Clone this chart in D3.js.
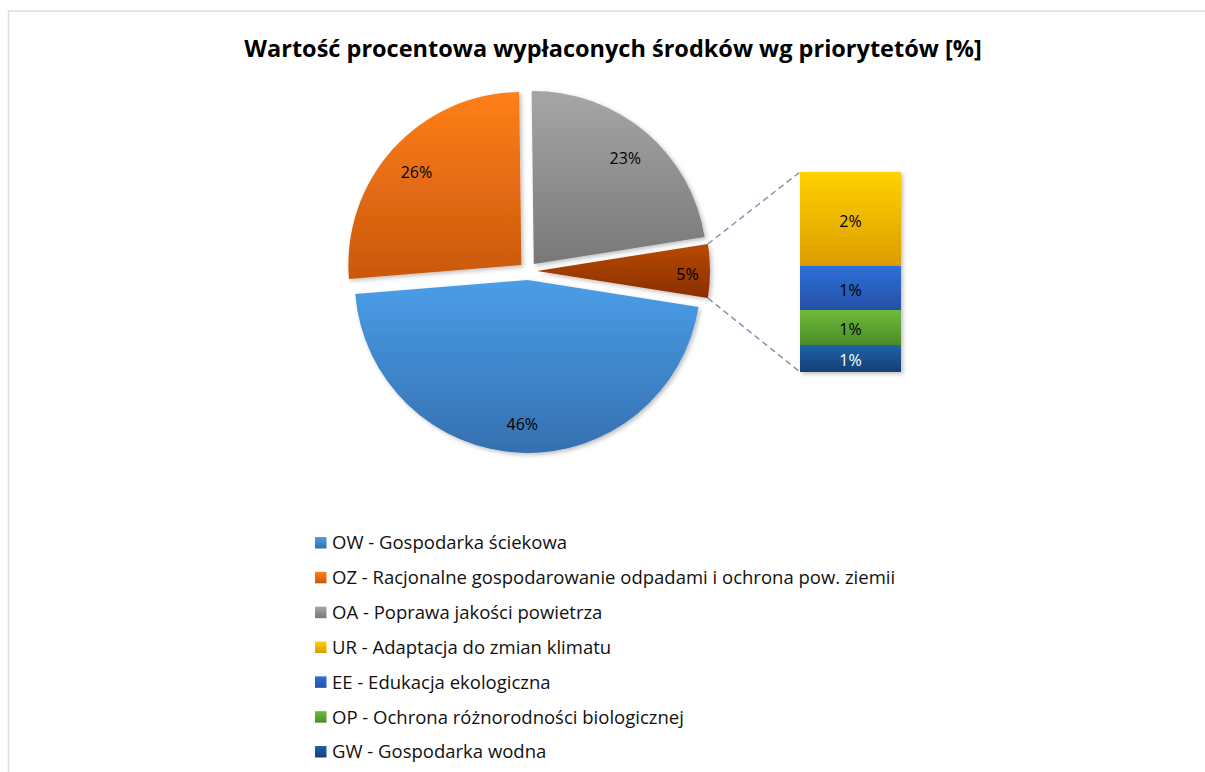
<!DOCTYPE html>
<html>
<head>
<meta charset="utf-8">
<script src="https://cdn.jsdelivr.net/npm/d3@7"></script>
<style>
  body { margin: 0; background: #fff; }
  svg text { font-family: "Open Sans", Lato, sans-serif; fill: #000; }
</style>
</head>
<body>
<svg id="chart" width="1205" height="772"></svg>
<script>
// main pie points
var pieKeys = ["OW", "OZ", "OA"];
var pieNames = ["OW - Gospodarka ściekowa",
	"OZ - Racjonalne gospodarowanie odpadami i ochrona pow. ziemii",
	"OA - Poprawa jakości powietrza"];
var pieValues = [46.2, 26.1, 22.7];

// points moved into the bar
var barKeys = ["UR", "EE", "OP", "GW"];
var barNames = ["UR - Adaptacja do zmian klimatu",
	"EE - Edukacja ekologiczna",
	"OP - Ochrona różnorodności biologicznej",
	"GW - Gospodarka wodna"];
var barValues = [2.35, 1.1, 0.875, 0.675];

var title = "Wartość procentowa wypłaconych środków wg priorytetów [%]";

// gradient colours, top -> bottom
var colors = {
	OW: ["#4a9de8", "#3570b0"],
	OZ: ["#ff7f1a", "#c9580c"],
	OA: ["#a6a6a6", "#787878"],
	OTHER: ["#b84a00", "#8a2e00"],
	UR: ["#ffd200", "#dc9c00"],
	EE: ["#2f6fd9", "#2550a5"],
	OP: ["#6dbc3a", "#4d8a28"],
	GW: ["#1f63a8", "#153f73"]
};

var svg = d3.select("#chart");
var defs = svg.append("defs");

Object.keys(colors).forEach(function(k){
	var g = defs.append("linearGradient")
		.attr("id", "grad_" + k)
		.attr("x1", 0).attr("y1", 0).attr("x2", 0).attr("y2", 1);
	g.append("stop").attr("offset", "0%").attr("stop-color", colors[k][0]);
	g.append("stop").attr("offset", "100%").attr("stop-color", colors[k][1]);
});

var shadow = defs.append("filter").attr("id", "shadow")
	.attr("x", "-10%").attr("y", "-10%").attr("width", "130%").attr("height", "130%");
shadow.append("feDropShadow")
	.attr("dx", 2).attr("dy", 2).attr("stdDeviation", 2)
	.attr("flood-color", "#000").attr("flood-opacity", 0.25);

// chart area border (only top and left visible)
svg.append("rect")
	.attr("x", 8.5).attr("y", 11)
	.attr("width", 1300).attr("height", 1000)
	.attr("fill", "none")
	.attr("stroke", "#d9dee5")
	.attr("stroke-width", 1.5);

svg.append("text")
	.attr("x", 613).attr("y", 57)
	.attr("text-anchor", "middle")
	.style("font-size", "23.5px")
	.style("font-weight", "bold")
	.text(title);

// ---- pie ----
var cx = 528, cy = 271, R = 173, explode = 9;
var otherTotal = d3.sum(barValues);
var allValues = pieValues.concat([otherTotal]);
var allKeys = pieKeys.concat(["OTHER"]);
var total = d3.sum(allValues);
var half = otherTotal / total * Math.PI;

var pie = d3.pie().sort(null)
	.startAngle(Math.PI / 2 + half)
	.endAngle(Math.PI / 2 + half + 2 * Math.PI);
var arcs = pie(allValues);
var arc = d3.arc().innerRadius(0).outerRadius(R);

function off(d){
	var m = (d.startAngle + d.endAngle) / 2;
	return [explode * Math.sin(m), -explode * Math.cos(m)];
}

var pieG = svg.append("g").attr("transform", "translate(" + cx + "," + cy + ")");

pieG.selectAll("path.slice")
	.data(arcs)
	.enter().append("path")
	.attr("class", "slice")
	.attr("transform", function(d){ var o = off(d); return "translate(" + o[0] + "," + o[1] + ")"; })
	.attr("d", arc)
	.attr("fill", function(d, i){ return "url(#grad_" + allKeys[i] + ")"; })
	.attr("filter", "url(#shadow)");

pieG.selectAll("text.lbl")
	.data(arcs)
	.enter().append("text")
	.attr("class", "lbl")
	.attr("transform", function(d, i){
		var m = (d.startAngle + d.endAngle) / 2;
		var o = off(d);
		var r = (i == 3) ? 0.87 * R : 0.82 * R;
		return "translate(" + (o[0] + r * Math.sin(m)) + "," + (o[1] - r * Math.cos(m) + 3) + ")";
	})
	.attr("text-anchor", "middle")
	.attr("dy", "0.35em")
	.style("font-size", "16px")
	.text(function(d){ return Math.round(d.value) + "%"; });

// ---- bar of pie ----
var bx = 800, bw = 101;
var y = d3.scaleLinear().domain([0, otherTotal]).range([372, 172]);

// stack from the bottom: GW, OP, EE, UR
var stack = [];
var acc = 0;
for (var i = barValues.length - 1; i >= 0; i--) {
	stack.push({ key: barKeys[i], v0: acc, v1: acc + barValues[i], v: barValues[i] });
	acc += barValues[i];
}

// connector lines from the "other" slice
var od = arcs[3];
var oo = off(od);
var pTop = [cx + oo[0] + R * Math.sin(od.startAngle), cy + oo[1] - R * Math.cos(od.startAngle)];
var pBot = [cx + oo[0] + R * Math.sin(od.endAngle), cy + oo[1] - R * Math.cos(od.endAngle)];
var conn = [[pTop, [bx, y(otherTotal)]], [pBot, [bx, y(0)]]];
svg.selectAll("line.conn")
	.data(conn)
	.enter().append("line")
	.attr("class", "conn")
	.attr("x1", function(d){ return d[0][0]; })
	.attr("y1", function(d){ return d[0][1]; })
	.attr("x2", function(d){ return d[1][0]; })
	.attr("y2", function(d){ return d[1][1]; })
	.attr("stroke", "#8497b0")
	.attr("stroke-width", 1.5)
	.attr("stroke-dasharray", "6,4");

var barG = svg.append("g").attr("filter", "url(#shadow)");
barG.selectAll("rect")
	.data(stack)
	.enter().append("rect")
	.attr("x", bx)
	.attr("y", function(d){ return y(d.v1); })
	.attr("width", bw)
	.attr("height", function(d){ return y(d.v0) - y(d.v1); })
	.attr("fill", function(d){ return "url(#grad_" + d.key + ")"; });

svg.selectAll("text.barlbl")
	.data(stack)
	.enter().append("text")
	.attr("class", "barlbl")
	.attr("x", bx + bw / 2)
	.attr("y", function(d){ return (y(d.v0) + y(d.v1)) / 2 + 2; })
	.attr("dy", "0.35em")
	.attr("text-anchor", "middle")
	.style("font-size", "16px")
	.style("fill", function(d){ return d.key == "GW" ? "#fff" : "#000"; })
	.text(function(d){ return Math.round(d.v) + "%"; });

// ---- legend ----
var legKeys = pieKeys.concat(barKeys);
var legNames = pieNames.concat(barNames);
var legY = d3.scalePoint().domain(d3.range(legKeys.length)).range([543, 752]);

var leg = svg.append("g").selectAll("g")
	.data(legKeys)
	.enter().append("g")
	.attr("transform", function(d, i){ return "translate(315," + legY(i) + ")"; });

leg.append("rect")
	.attr("x", 0).attr("y", -6)
	.attr("width", 11.5).attr("height", 11.5)
	.attr("fill", function(d){ return "url(#grad_" + d + ")"; });

leg.append("text")
	.attr("x", 17)
	.attr("dy", "0.35em")
	.style("font-size", "18.5px")
	.style("fill", "#111")
	.text(function(d, i){ return legNames[i]; });
</script>
</body>
</html>
